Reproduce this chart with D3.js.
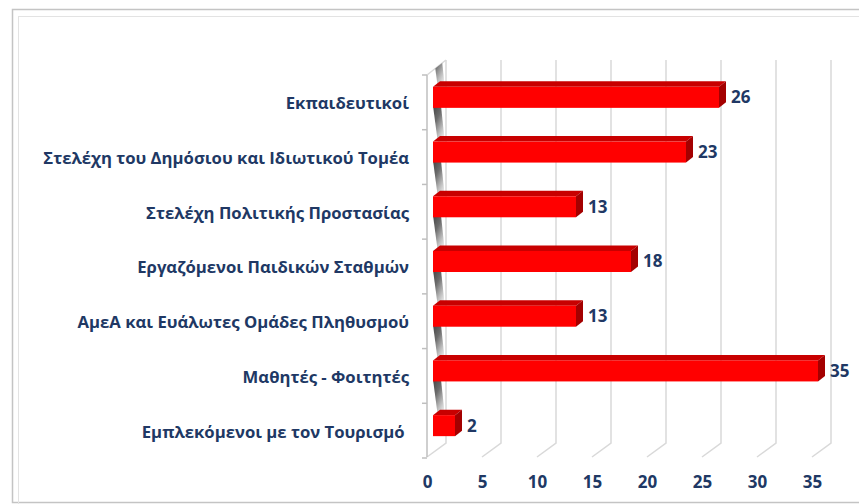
<!DOCTYPE html>
<html>
<head>
<meta charset="utf-8">
<script src="https://cdn.jsdelivr.net/npm/d3@7"></script>
<style>
  html, body { margin: 0; padding: 0; background: #fff; }
  svg { display: block; }
  text { white-space: pre; }
</style>
</head>
<body>
<div id="chart"></div>
<script>
// categories top to bottom, and their counts
const categories = [
  "Εκπαιδευτικοί",
  "Στελέχη του Δημόσιου και Ιδιωτικού Τομέα",
  "Στελέχη Πολιτικής Προστασίας",
  "Εργαζόμενοι Παιδικών Σταθμών",
  "ΑμεΑ και Ευάλωτες Ομάδες Πληθυσμού",
  "Μαθητές - Φοιτητές",
  "Εμπλεκόμενοι με τον Τουρισμό "
];
const values = [26, 23, 13, 18, 13, 35, 2];
const xTicks = [0, 5, 10, 15, 20, 25, 30, 35];

const width = 859, height = 504;
const navy = "#203864";
const grid = "#d9d9d9";

// 3d geometry of the excel-like plot
const backX = 446, frontX = 427, barX = 433;
const wallTop = 60, wallBottom = 443, floorY = 457;
const depth = { dx: 19, dy: 14 };   // back wall -> front floor offset
const barDepth = { dx: 7, dy: 5.5 };
const barH = 21;

const svg = d3.select("#chart").append("svg")
  .attr("width", width)
  .attr("height", height);

// chart frame
svg.append("rect")
  .attr("x", 12.5).attr("y", 9.5)
  .attr("width", 880).attr("height", 493)
  .attr("fill", "none").attr("stroke", "#c4c4c4").attr("stroke-width", 1.5);
svg.append("rect")
  .attr("x", 18.5).attr("y", 16.5)
  .attr("width", 880).attr("height", 500)
  .attr("fill", "none").attr("stroke", "#e3e3e3").attr("stroke-width", 1);

const x = d3.scaleLinear().domain([0, 35]).range([0, 385]);
const y = d3.scaleBand().domain(categories).range([75, 458]);

// back wall gridlines + floor lines
const gl = svg.append("g").attr("stroke", grid).attr("stroke-width", 1.5).attr("fill", "none");
gl.selectAll("path")
  .data(xTicks)
  .join("path")
  .attr("d", d => `M${backX + x(d)},${wallTop}V${wallBottom}l${-depth.dx},${depth.dy}`);

// side wall (value 0) edges
const wallPts = [[frontX, 75], [backX, wallTop], [backX, wallBottom], [frontX, floorY]];
svg.append("path")
  .attr("d", `M${frontX},75L${backX},${wallTop}`)
  .attr("stroke", grid).attr("stroke-width", 1.5).attr("fill", "none");
svg.append("line")
  .attr("x1", frontX).attr("x2", frontX).attr("y1", 75).attr("y2", floorY)
  .attr("stroke", "#bfbfbf").attr("stroke-width", 1.5);

// category boundary ticks
svg.append("g").selectAll("line")
  .data(d3.range(categories.length + 1))
  .join("line")
  .attr("x1", frontX - 5).attr("x2", frontX)
  .attr("y1", i => y.range()[0] + i * y.step())
  .attr("y2", i => y.range()[0] + i * y.step())
  .attr("stroke", "#bfbfbf").attr("stroke-width", 1.5);

// shaded stripes on the side wall
const defs = svg.append("defs");
const sg = defs.append("linearGradient").attr("id", "stripe")
  .attr("x1", 0).attr("y1", 0).attr("x2", 0.6).attr("y2", 1);
sg.append("stop").attr("offset", "0%").attr("stop-color", "#2e2e2e");
sg.append("stop").attr("offset", "40%").attr("stop-color", "#5c5c5c");
sg.append("stop").attr("offset", "75%").attr("stop-color", "#b4b4b4");
sg.append("stop").attr("offset", "100%").attr("stop-color", "#e8e8e8");
defs.append("clipPath").attr("id", "wallClip")
  .append("polygon").attr("points", wallPts.map(p => p.join(",")).join(" "));

const barTop = d => y(d) + y.bandwidth() / 2 - 5 - barH / 2;

svg.append("g").attr("clip-path", "url(#wallClip)")
  .selectAll("polygon")
  .data(categories)
  .join("polygon")
  .attr("fill", "url(#stripe)")
  .attr("opacity", 0.9)
  .attr("points", d => {
    const b = barTop(d) + 2, t = barTop(d) - y.step() + barH - 2;
    return `${barX},${t} ${barX + 8},${t} ${barX + 12},${b} ${barX + 5},${b}`;
  });

// bars
const bars = svg.append("g").selectAll("g")
  .data(categories)
  .join("g");

bars.append("polygon") // top face
  .attr("fill", "#c80000")
  .attr("points", (d, i) => {
    const t = barTop(d), r = barX + x(values[i]);
    return `${barX},${t} ${r},${t} ${r + barDepth.dx},${t - barDepth.dy} ${barX + barDepth.dx},${t - barDepth.dy}`;
  });
bars.append("polygon") // right face
  .attr("fill", "#a40000")
  .attr("points", (d, i) => {
    const t = barTop(d), r = barX + x(values[i]);
    return `${r},${t} ${r + barDepth.dx},${t - barDepth.dy} ${r + barDepth.dx},${t + barH - barDepth.dy} ${r},${t + barH}`;
  });
bars.append("rect") // front face
  .attr("x", barX)
  .attr("y", d => barTop(d))
  .attr("width", (d, i) => x(values[i]))
  .attr("height", barH)
  .attr("fill", "#ff0000");

// value labels
bars.append("text")
  .attr("x", (d, i) => barX + x(values[i]) + barDepth.dx + 5)
  .attr("y", d => barTop(d) + barH / 2)
  .attr("dy", "0.35em")
  .attr("font-family", "'Open Sans', sans-serif")
  .attr("font-weight", 700)
  .attr("font-size", 17)
  .attr("fill", navy)
  .text((d, i) => values[i]);

// category labels
const yAxis = svg.append("g")
  .attr("transform", `translate(${frontX},1.5)`)
  .call(d3.axisLeft(y).tickSize(0).tickPadding(18));
yAxis.select(".domain").remove();
yAxis.selectAll("text")
  .attr("font-family", "'Open Sans', sans-serif")
  .attr("font-weight", 700)
  .attr("font-size", 16.7)
  .attr("fill", navy);

// value axis labels along the front floor edge
const xAxis = svg.append("g")
  .attr("transform", `translate(${frontX},476)`)
  .call(d3.axisBottom(x).tickValues(xTicks).tickSize(0).tickPadding(0));
xAxis.select(".domain").remove();
xAxis.selectAll("text")
  .attr("font-family", "'Open Sans', sans-serif")
  .attr("font-weight", 700)
  .attr("font-size", 17)
  .attr("fill", navy);
</script>
</body>
</html>
